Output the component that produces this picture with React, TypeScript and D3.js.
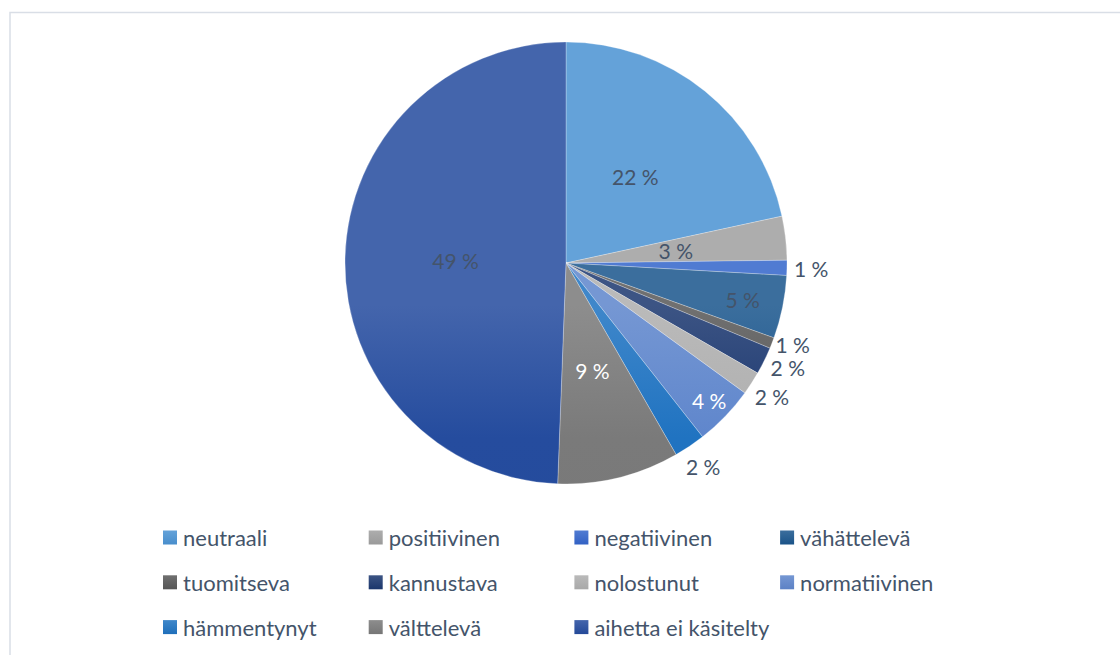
import { useMemo } from "react";
import * as d3 from "d3";

// Slice categories, clockwise from 12 o'clock
const CATEGORIES = [
  "neutraali",
  "positiivinen",
  "negatiivinen",
  "vähättelevä",
  "tuomitseva",
  "kannustava",
  "nolostunut",
  "normatiivinen",
  "hämmentynyt",
  "välttelevä",
  "aihetta ei käsitelty",
];

// Share of answers, percent
const VALUES = [21.6, 3.2, 1.1, 4.6, 0.8, 2.0, 1.7, 4.4, 2.3, 8.9, 49.4];

const COLORS = [
  "#4b93d3",
  "#a0a0a0",
  "#3465cb",
  "#1b568d",
  "#595959",
  "#1c3870",
  "#afafaf",
  "#5f86cc",
  "#2073c1",
  "#7a7a7a",
  "#254c9e",
];

// Label placement per slice: radius factor, angle nudge (deg), text colour
const LABEL_POS: { r: number; da: number; fill: string }[] = [
  { r: 0.5, da: 0, fill: "#44546a" },
  { r: 0.5, da: 0, fill: "#44546a" },
  { r: 1.11, da: 0, fill: "#44546a" },
  { r: 0.816, da: 0, fill: "#44546a" },
  { r: 1.09, da: -1.5, fill: "#44546a" },
  { r: 1.11, da: -1, fill: "#44546a" },
  { r: 1.11, da: 0, fill: "#44546a" },
  { r: 0.9, da: 0, fill: "#ffffff" },
  { r: 1.11, da: 0, fill: "#44546a" },
  { r: 0.5, da: 0, fill: "#ffffff" },
  { r: 0.5, da: 0, fill: "#44546a" },
];

const W = 1120;
const H = 655;
const CX = 566;
const CY = 263;
const R = 221;
const FONT = "Lato, 'Open Sans', sans-serif";
const TEXT = "#44546a";

const LEGEND_X0 = 163;
const LEGEND_DX = 205.7;
const LEGEND_Y0 = 537.5;
const LEGEND_DY = 44.8;
const LEGEND_COLS = 4;

export default function App() {
  const arcs = useMemo(() => {
    const pie = d3
      .pie<number>()
      .sort(null)
      .value((d) => d);
    return pie(VALUES);
  }, []);

  const arcGen = d3.arc<d3.PieArcDatum<number>>().innerRadius(0).outerRadius(R);
  const total = d3.sum(VALUES);

  // Office-style vertical shading: a touch lighter on top, darker at the bottom
  const light = (c: string) => d3.interpolateRgb(c, "#ffffff")(0.14);
  const dark = (c: string) => d3.color(c)!.darker(0.1).formatHex();

  return (
    <div style={{ position: "absolute", left: 0, top: 0 }}>
      <svg width={W} height={H} style={{ display: "block", background: "#fff" }}>
        <defs>
          {COLORS.map((c, i) => (
            <linearGradient
              key={i}
              id={`pg-${i}`}
              gradientUnits="userSpaceOnUse"
              x1={0}
              y1={CY - R}
              x2={0}
              y2={CY + R}
            >
              <stop offset="0" stopColor={light(c)} />
              <stop offset="0.3" stopColor={c} />
              <stop offset="1" stopColor={dark(c)} />
            </linearGradient>
          ))}
          {COLORS.map((c, i) => (
            <linearGradient key={`l${i}`} id={`lg-${i}`} x1="0" y1="0" x2="0" y2="1">
              <stop offset="0" stopColor={light(c)} />
              <stop offset="1" stopColor={dark(c)} />
            </linearGradient>
          ))}
        </defs>

        {/* chart frame */}
        <rect x={10} y={12.5} width={1200} height={700} fill="none" stroke="#d9dee6" strokeWidth={1.5} />

        <g transform={`translate(${CX},${CY})`}>
          {arcs.map((a, i) => (
            <path
              key={i}
              d={arcGen(a) ?? ""}
              fill={`url(#pg-${i})`}
              stroke="#ffffff"
              strokeOpacity={0.45}
              strokeWidth={0.6}
            />
          ))}
          {arcs.map((a, i) => {
            const lp = LABEL_POS[i];
            const mid = (a.startAngle + a.endAngle) / 2 + (lp.da * Math.PI) / 180;
            const rr = R * lp.r;
            const x = rr * Math.sin(mid);
            const y = -rr * Math.cos(mid);
            const pct = Math.round((a.data / total) * 100);
            return (
              <text
                key={i}
                x={x}
                y={y}
                textAnchor="middle"
                dominantBaseline="central"
                fill={lp.fill}
                fontFamily={FONT}
                fontSize={21}
              >
                {`${pct} %`}
              </text>
            );
          })}
        </g>

        <g>
          {CATEGORIES.map((name, i) => {
            const col = i % LEGEND_COLS;
            const row = Math.floor(i / LEGEND_COLS);
            const x = LEGEND_X0 + col * LEGEND_DX;
            const y = LEGEND_Y0 + row * LEGEND_DY;
            return (
              <g key={name} transform={`translate(${x},${y})`}>
                <rect x={0} y={-7} width={14} height={14} fill={`url(#lg-${i})`} />
                <text
                  x={20}
                  y={0}
                  dominantBaseline="central"
                  fill={TEXT}
                  fontFamily={FONT}
                  fontSize={22}
                >
                  {name}
                </text>
              </g>
            );
          })}
        </g>
      </svg>
    </div>
  );
}
